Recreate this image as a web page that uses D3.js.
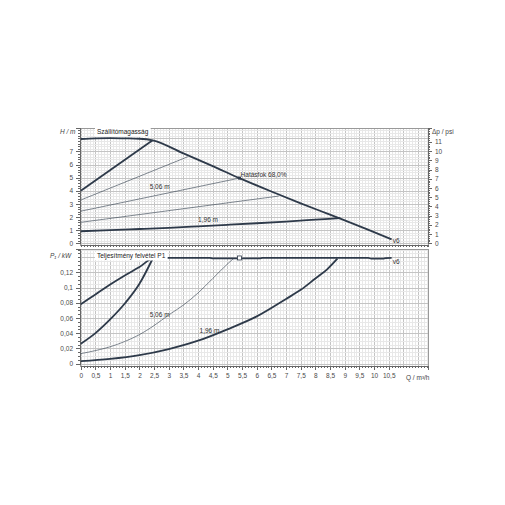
<!DOCTYPE html>
<html>
<head>
<meta charset="utf-8">
<script src="https://cdn.jsdelivr.net/npm/d3@7"></script>
<style>
  body { margin: 0; background: #fff; }
  svg text { font-family: "Liberation Sans", Arial, sans-serif; }
  .axis path, .axis line { stroke: #666; shape-rendering: crispEdges; }
  .axis text { fill: #4a4a4a; font-size: 6.5px; }
</style>
</head>
<body>
<div id="vis"></div>
<script>
// flow ticks (m3/h)
var qTicks = [0, 0.5, 1, 1.5, 2, 2.5, 3, 3.5, 4, 4.5, 5, 5.5, 6, 6.5, 7, 7.5, 8, 8.5, 9, 9.5, 10, 10.5];
var headTicks = [0, 1, 2, 3, 4, 5, 6, 7];
var psiTicks = [0, 1, 2, 3, 4, 5, 6, 7, 8, 9, 10, 11];
var powerTicks = [0, 0.02, 0.04, 0.06, 0.08, 0.1, 0.12];

// head curves (Q, H)
var maxHeadQ = [0, 0.5, 1, 1.5, 2, 2.45, 3.5, 4.5, 5.41, 6.5, 7.5, 8.13, 8.85, 9.75, 10.6];
var maxHeadH = [7.95, 8.0, 8.02, 8.0, 7.97, 7.85, 6.85, 5.88, 4.97, 3.95, 3.05, 2.5, 1.88, 1.08, 0.3];
var riseQ = [0, 2.45];
var riseH = [4.0, 7.85];
var thin1Q = [0, 3.65];
var thin1H = [3.3, 6.6];
var thin2Q = [0, 5.41];
var thin2H = [2.45, 4.97];
var thin3Q = [0, 6.75];
var thin3H = [1.6, 3.6];
var minHeadQ = [0, 1, 2, 3, 4, 5, 6, 7, 8, 8.85];
var minHeadH = [0.92, 1.0, 1.09, 1.18, 1.29, 1.41, 1.53, 1.66, 1.8, 1.92];

// power curves (Q, P1)
var maxPowQ = [0, 0.5, 1, 1.5, 2, 2.45, 3, 3.5, 4.4, 4.5, 6.1, 6.2, 8, 9.8, 9.9, 10.3, 10.4, 10.6];
var maxPowP = [0.078, 0.091, 0.104, 0.116, 0.127, 0.138, 0.1392, 0.139, 0.139, 0.1384, 0.1384, 0.139, 0.139, 0.139, 0.1382, 0.1382, 0.1388, 0.139];
var risePowQ = [0, 0.5, 1, 1.5, 2, 2.45];
var risePowP = [0.026, 0.04, 0.058, 0.079, 0.105, 0.138];
var midPowQ = [0, 0.5, 1, 1.5, 2, 2.5, 3, 3.5, 4, 4.5, 5, 5.2];
var midPowP = [0.013, 0.017, 0.022, 0.029, 0.038, 0.05, 0.064, 0.077, 0.093, 0.112, 0.131, 0.138];
var minPowQ = [0, 1, 2, 3, 4, 5, 6, 7, 7.5, 8, 8.4, 8.75];
var minPowP = [0.003, 0.006, 0.011, 0.019, 0.03, 0.045, 0.062, 0.085, 0.097, 0.112, 0.124, 0.138];

var dutyQ = 5.41, dutyH = 4.97, dutyP = 0.139;

var width = 505, height = 505;
var left = 80, right = 428;
var topY0 = 128, topY1 = 245;
var botY0 = 249, botY1 = 366;

var svg = d3.select('#vis').append('svg')
    .attr('width', width)
    .attr('height', height);

var x = d3.scaleLinear().domain([0, 11.84]).range([left + 0.8, right]);
var yH = d3.scaleLinear().domain([0, 8.79]).range([243.3, topY0]);
var yPsi = d3.scaleLinear().domain([0, 8.79 / 0.70307]).range([243.3, topY0]);
var yP = d3.scaleLinear().domain([0, 0.1508]).range([363.5, botY0]);

var comma = function(d) { return String(d).replace('.', ','); };

function range(a, b, s) {
    var out = [];
    for (var v = a; v <= b + 1e-9; v += s) out.push(+v.toFixed(4));
    return out;
}

function drawGrid(y0, y1, yScale, minorY, majorY) {
    var g = svg.append('g');
    g.append('rect')
        .attr('x', left).attr('y', y0)
        .attr('width', right - left).attr('height', y1 - y0)
        .attr('fill', '#fff');
    var xs = range(0, 11.8, 0.1);
    g.selectAll('.vmin').data(xs).enter().append('line')
        .attr('x1', d => Math.round(x(d)) + 0.5).attr('x2', d => Math.round(x(d)) + 0.5)
        .attr('y1', y0).attr('y2', y1)
        .attr('stroke', d => (Math.abs(d * 2 - Math.round(d * 2)) < 1e-6) ? '#c4c4c4' : '#e8e8e8')
        .attr('shape-rendering', 'crispEdges');
    g.selectAll('.hmin').data(minorY).enter().append('line')
        .attr('y1', d => Math.round(yScale(d)) + 0.5).attr('y2', d => Math.round(yScale(d)) + 0.5)
        .attr('x1', left).attr('x2', right)
        .attr('stroke', '#e8e8e8')
        .attr('shape-rendering', 'crispEdges');
    g.selectAll('.hmaj').data(majorY).enter().append('line')
        .attr('y1', d => Math.round(yScale(d)) + 0.5).attr('y2', d => Math.round(yScale(d)) + 0.5)
        .attr('x1', left).attr('x2', right)
        .attr('stroke', '#c4c4c4')
        .attr('shape-rendering', 'crispEdges');
    g.append('rect')
        .attr('x', left + 0.5).attr('y', y0 + 0.5)
        .attr('width', right - left).attr('height', y1 - y0)
        .attr('fill', 'none').attr('stroke', '#999');
}

drawGrid(topY0, topY1, yH, range(0, 8.6, 0.2), range(0, 8, 1));
drawGrid(botY0, botY1, yP, range(0, 0.15, 0.005), range(0, 0.14, 0.02));

// left head axis
var gH = svg.append('g').attr('class', 'axis').attr('transform', 'translate(' + left + ',0)');
gH.call(d3.axisLeft(yH).tickValues(range(0, 8.6, 0.2)).tickSize(2).tickFormat(''));
gH.append('g').call(d3.axisLeft(yH).tickValues(headTicks).tickSize(4).tickFormat(d3.format('d')));

// right psi axis
var gPsi = svg.append('g').attr('class', 'axis').attr('transform', 'translate(' + right + ',0)');
gPsi.call(d3.axisRight(yPsi).tickValues(range(0, 12.4, 0.2)).tickSize(2).tickFormat(''));
gPsi.append('g').call(d3.axisRight(yPsi).tickValues(psiTicks).tickSize(4).tickFormat(d3.format('d')));

// x axis under top panel (ticks only)
var gXt = svg.append('g').attr('class', 'axis').attr('transform', 'translate(0,' + topY1 + ')');
gXt.call(d3.axisBottom(x).tickValues(range(0, 11.8, 0.1)).tickSize(2).tickFormat(''));

// left power axis
var gP = svg.append('g').attr('class', 'axis').attr('transform', 'translate(' + left + ',0)');
gP.call(d3.axisLeft(yP).tickValues(range(0, 0.15, 0.005)).tickSize(2).tickFormat(''));
gP.append('g').call(d3.axisLeft(yP).tickValues(powerTicks).tickSize(4).tickFormat(comma));

// bottom Q axis
var gX = svg.append('g').attr('class', 'axis').attr('transform', 'translate(0,' + botY1 + ')');
gX.call(d3.axisBottom(x).tickValues(range(0, 11.8, 0.1)).tickSize(2).tickFormat(''));
gX.append('g').call(d3.axisBottom(x).tickValues(qTicks).tickSize(4).tickFormat(comma));

svg.selectAll('.axis .domain').attr('stroke', '#888');

// curves
var curveColor = '#2e3a4a';
function drawLine(qs, vs, yScale, w) {
    var pts = qs.map(function(q, i) { return [q, vs[i]]; });
    svg.append('path')
        .datum(pts)
        .attr('d', d3.line().x(d => x(d[0])).y(d => yScale(d[1])).curve(d3.curveMonotoneX))
        .attr('fill', 'none')
        .attr('stroke', curveColor)
        .attr('stroke-width', w)
        .attr('stroke-linejoin', 'round');
}

drawLine(thin1Q, thin1H, yH, 0.6);
drawLine(thin2Q, thin2H, yH, 0.6);
drawLine(thin3Q, thin3H, yH, 0.6);
drawLine(riseQ, riseH, yH, 1.8);
drawLine(minHeadQ, minHeadH, yH, 1.8);
drawLine(maxHeadQ, maxHeadH, yH, 1.8);

drawLine(midPowQ, midPowP, yP, 0.6);
drawLine(risePowQ, risePowP, yP, 1.8);
drawLine(minPowQ, minPowP, yP, 1.8);
drawLine(maxPowQ, maxPowP, yP, 1.8);

// duty point markers
svg.append('rect')
    .attr('x', x(dutyQ) - 1.5).attr('y', yH(dutyH) - 1.5)
    .attr('width', 3).attr('height', 3)
    .attr('fill', curveColor);
svg.append('rect')
    .attr('x', x(dutyQ) - 2).attr('y', yP(dutyP) - 2)
    .attr('width', 4).attr('height', 4)
    .attr('fill', '#fff').attr('stroke', curveColor).attr('stroke-width', 0.8);

// labels
function label(tx, ty, txt, opts) {
    opts = opts || {};
    var t = svg.append('text')
        .attr('x', tx).attr('y', ty)
        .attr('font-size', opts.size || 6.5)
        .attr('fill', opts.fill || '#333')
        .attr('text-anchor', opts.anchor || 'start')
        .text(txt);
    if (opts.italic) t.attr('font-style', 'italic');
    return t;
}

// panel titles with white background and thin frame
function panelTitle(tx, ty, txt) {
    var t = label(tx, ty, txt, {size: 6.5, fill: '#222'});
    var bb = t.node().getBBox();
    svg.insert('rect', function() { return t.node(); })
        .attr('x', bb.x - 2).attr('y', bb.y - 0.5)
        .attr('width', bb.width + 4).attr('height', bb.height + 1)
        .attr('fill', '#fff');
}
panelTitle(97, 134, 'Szállítómagasság');
panelTitle(97, 258, 'Teljesítmény felvétel P1');

label(60, 134, 'H / m', {italic: true, fill: '#444'});
label(432, 134, 'Δp / psi', {fill: '#444'});
label(50, 258, 'P₁ / kW', {italic: true, fill: '#444'});
label(406, 380, 'Q / m³/h', {fill: '#444'});

label(x(2.35), yH(4.0) - 2, '5,06 m');
label(x(4.0), yH(1.55) - 1, '1,96 m');
label(x(5.45), yH(5.05), 'Hatásfok  68,0%');
label(x(10.6) + 1, yH(0.05), 'v6');

label(x(2.35), yP(0.061), '5,06 m');
label(x(4.05), yP(0.04), '1,96 m');
label(x(10.6) + 1, yP(0.131), 'v6');
</script>
</body>
</html>
